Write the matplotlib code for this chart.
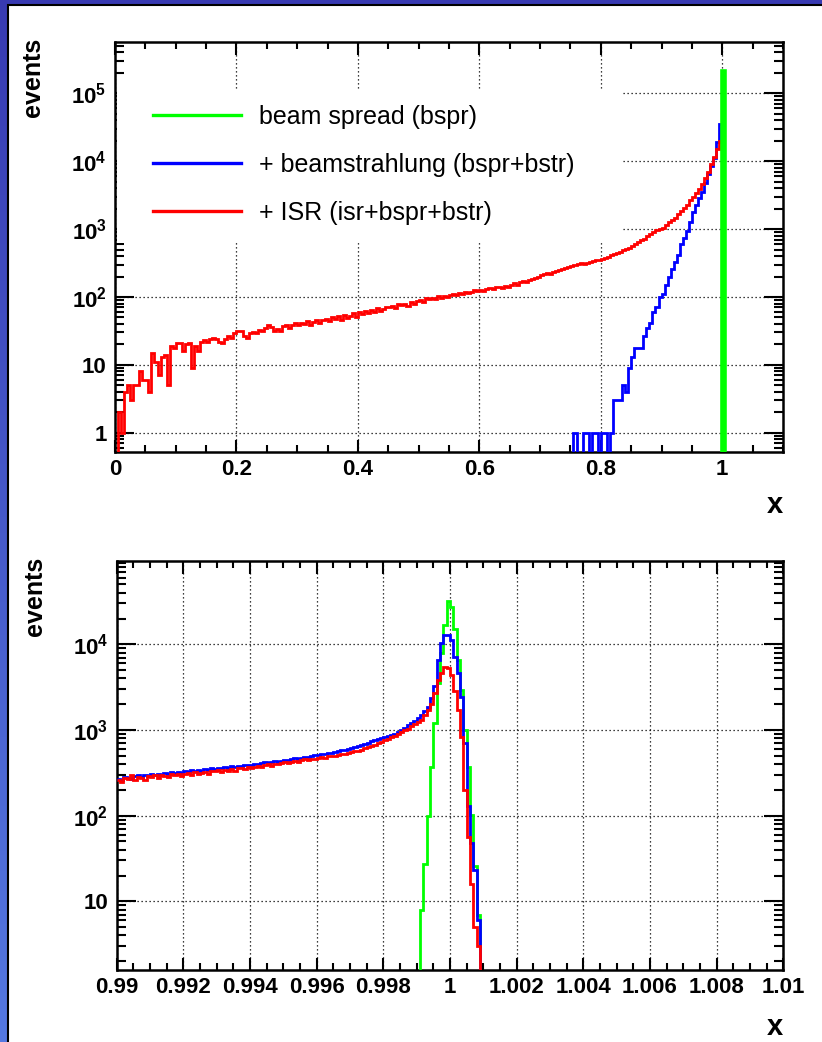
import numpy as np
import matplotlib.pyplot as plt
from matplotlib import font_manager
from matplotlib.lines import Line2D
from matplotlib.patches import Rectangle
from matplotlib.ticker import FixedLocator, FixedFormatter, MultipleLocator, LogLocator, NullFormatter

# ---------------- data ----------------
# upper panel: x in [0, 1.1], bins of 0.005
top_bin_width = 0.005
top_xmax = 1.1
# ISR (isr+bspr+bstr), bins starting at x = 0.0
isr_top = [
    0, 2, 1, 4, 5, 3, 5, 5, 8, 6,
    6, 4, 15, 11, 7, 13, 14, 5, 19, 18,
    21, 21, 16, 20, 21, 9, 19, 16, 22, 23,
    22, 24, 25, 24, 22, 21, 24, 27, 25, 29,
    32, 31, 27, 25, 29, 30, 29, 33, 31, 35,
    38, 36, 32, 34, 32, 37, 38, 35, 39, 41,
    38, 42, 40, 44, 39, 43, 46, 41, 45, 48,
    44, 50, 47, 52, 46, 55, 49, 53, 58, 51,
    60, 56, 62, 58, 65, 61, 68, 63, 66, 72,
    70, 74, 68, 78, 75, 80, 73, 84, 79, 86,
    90, 85, 95, 92, 98, 94, 102, 97, 105, 100,
    108, 112, 106, 116, 110, 120, 115, 118, 125, 122,
    128, 124, 132, 135, 130, 138, 140, 136, 145, 142,
    150, 158, 152, 165, 170, 168, 178, 185, 190, 200,
    210, 215, 225, 220, 235, 240, 250, 255, 265, 280,
    290, 300, 305, 315, 310, 320, 330, 335, 345, 350,
    360, 375, 390, 410, 425, 445, 465, 490, 510, 535,
    560, 600, 640, 680, 720, 780, 840, 900, 960, 1000,
    1050, 1150, 1250, 1350, 1450, 1650, 1850, 2050, 2300, 2700,
    3000, 3400, 3900, 4600, 5600, 7000, 9000, 11500, 15000, 20000,
]
# beamstrahlung (bspr+bstr), bins starting at x = 0.755
bstr_top_start = 0.755
bstr_top = [
    1, 0, 0, 1, 1, 0, 1, 1, 0, 1, 1, 0, 1,
    3, 3, 3, 5, 4, 9, 13, 18, 18, 18, 27, 35, 41, 60, 70, 100, 110,
    150, 195, 260, 330, 420, 600, 750, 950, 1250, 1800, 2300, 2900,
    3500, 4800, 6500, 8500, 11000, 19000, 35000,
]
# beam spread (bspr), single bin at x = 1.0
bspr_top_start = 1.0
bspr_top = [210000]

# lower panel: x in [0.99, 1.01], bins of 0.0001
bot_xmin, bot_xmax, bot_nbins = 0.99, 1.01, 200
bstr_bot = [
    270, 262, 285, 276, 268, 290, 296, 284, 300, 292,
    305, 298, 310, 302, 316, 308, 320, 312, 326, 318,
    330, 322, 338, 330, 344, 336, 352, 344, 358, 350,
    362, 356, 370, 364, 378, 372, 384, 378, 392, 386,
    395, 402, 396, 410, 418, 412, 424, 432, 426, 440,
    450, 444, 458, 466, 460, 474, 482, 490, 498, 506,
    515, 524, 520, 535, 546, 556, 568, 580, 592, 605,
    620, 634, 648, 664, 690, 705, 735, 755, 780, 810,
    840, 862, 880, 910, 950, 1000, 1060, 1130, 1200, 1280,
    1380, 1500, 1650, 1880, 2380, 3300, 6600, 10400, 12900, 12900,
    11300, 7200, 4650, 2460, 700, 130, 48, 23, 6,
]
isr_bot = [
    262, 250, 275, 268, 300, 258, 280, 272, 262, 290,
    285, 296, 278, 300, 292, 286, 305, 298, 310, 290,
    305, 315, 300, 322, 310, 318, 326, 306, 334, 328,
    338, 322, 344, 336, 352, 330, 358, 364, 348, 366,
    360, 372, 380, 366, 388, 396, 384, 404, 398, 412,
    420, 410, 428, 438, 426, 446, 454, 444, 462, 458,
    470, 480, 474, 492, 502, 496, 514, 528, 520, 540,
    556, 572, 566, 590, 610, 630, 652, 676, 700, 730,
    760, 790, 826, 862, 900, 945, 990, 1040, 1100, 1170,
    1250, 1320, 1500, 1700, 2000, 2700, 3870, 4650, 5500, 5300,
    4400, 2820, 1730, 840, 200, 57, 16, 5, 3,
]
bspr_bot_start = 0.9991
bspr_bot = [8, 27, 100, 375, 1200, 3500, 8000, 17000, 32500,
            27000, 15000, 6600, 2950, 1000, 375, 103, 26, 7]

labels = ['beam spread (bspr)', '+ beamstrahlung (bspr+bstr)', '+ ISR (isr+bspr+bstr)']
colors = ['#00ff00', '#0000ff', '#ff0000']

top_xticks = [0, 0.2, 0.4, 0.6, 0.8, 1.0]
top_xticklabels = ['0', '0.2', '0.4', '0.6', '0.8', '1']
top_yticks = [1, 10, 1e2, 1e3, 1e4, 1e5]
top_yticklabels = ['1', '10', '$10^{2}$', '$10^{3}$', '$10^{4}$', '$10^{5}$']
bot_xticks = [0.99, 0.992, 0.994, 0.996, 0.998, 1.0, 1.002, 1.004, 1.006, 1.008, 1.01]
bot_xticklabels = ['0.99', '0.992', '0.994', '0.996', '0.998', '1',
                   '1.002', '1.004', '1.006', '1.008', '1.01']
bot_yticks = [10, 1e2, 1e3, 1e4]
bot_yticklabels = ['10', '$10^{2}$', '$10^{3}$', '$10^{4}$']

# ---------------- style ----------------
plt.rcParams['font.family'] = ['Liberation Sans', 'DejaVu Sans']
plt.rcParams['font.weight'] = 'bold'
plt.rcParams['mathtext.fontset'] = 'custom'
plt.rcParams['mathtext.rm'] = 'Liberation Sans:bold'
plt.rcParams['mathtext.bf'] = 'Liberation Sans:bold'
plt.rcParams['mathtext.it'] = 'Liberation Sans:bold'

try:
    font_manager.findfont('Liberation Sans Narrow', fallback_to_default=False)
    title_family = 'Liberation Sans Narrow'
except ValueError:
    title_family = 'Liberation Sans'


def place(nbins, start_idx, vals):
    arr = np.zeros(nbins)
    arr[start_idx:start_idx + len(vals)] = vals
    return arr


def draw_hist(ax, edges, counts, color, lw=2.0):
    vals = np.where(counts > 0, counts, 1e-3)  # empty bins drop below the axis
    ax.stairs(vals, edges, color=color, lw=lw, baseline=None, zorder=3)


def style(ax, xticks, xlabels, xminor, yticks, ylabels):
    ax.set_yscale('log')
    ax.xaxis.set_major_locator(FixedLocator(xticks))
    ax.xaxis.set_major_formatter(FixedFormatter(xlabels))
    ax.xaxis.set_minor_locator(MultipleLocator(xminor))
    ax.yaxis.set_major_locator(FixedLocator(yticks))
    ax.yaxis.set_major_formatter(FixedFormatter(ylabels))
    ax.yaxis.set_minor_locator(LogLocator(base=10, subs=np.arange(2, 10), numticks=20))
    ax.yaxis.set_minor_formatter(NullFormatter())
    ax.tick_params(which='both', direction='in', top=True, right=True,
                   width=1.5, labelsize=16)
    ax.tick_params(axis='x', which='major', length=9, pad=5)
    ax.tick_params(axis='x', which='minor', length=5)
    ax.tick_params(axis='y', which='major', length=13.5, pad=6)
    ax.tick_params(axis='y', which='minor', length=6.5)
    for s in ax.spines.values():
        s.set_linewidth(1.8)
    ax.set_axisbelow(True)
    ax.grid(True, which='major', color='black', ls=(0, (1, 2.2)), lw=0.9)
    ax.set_xlabel('x', loc='right', fontsize=21, fontweight='bold')
    ax.set_ylabel('events', loc='top', fontsize=18, fontweight='bold', family=title_family)


fig = plt.figure(figsize=(8.22, 10.42), dpi=100)

# blue frame + white panel
bg = fig.add_axes([0, 0, 1, 1], zorder=-10)
grad = np.linspace(0, 1, 256)[:, None, None]
c_top = np.array([0.22, 0.23, 0.70])
c_bot = np.array([0.33, 0.47, 0.88])
bg.imshow(c_top + grad * (c_bot - c_top), aspect='auto', extent=[0, 1, 0, 1])
bg.axis('off')
fig.add_artist(Rectangle((8 / 822, -0.01), 1.0, 1 - 5 / 1042 + 0.01, transform=fig.transFigure,
                         facecolor='white', edgecolor='black', lw=1.5, zorder=-5))

# ---------------- upper panel ----------------
ax1 = fig.add_axes([115 / 822, 1 - 452 / 1042, 668 / 822, 410 / 1042])
n_top = int(round(top_xmax / top_bin_width))
top_edges = np.linspace(0, top_xmax, n_top + 1)
h_isr = place(n_top, 0, isr_top)
h_bstr = place(n_top, int(round(bstr_top_start / top_bin_width)), bstr_top)
h_bspr = place(n_top, int(round(bspr_top_start / top_bin_width)), bspr_top)
draw_hist(ax1, top_edges, h_bstr, colors[1])
draw_hist(ax1, top_edges, h_isr, colors[2])
draw_hist(ax1, top_edges, h_bspr, colors[0], lw=2.6)
ax1.set_xlim(0, top_xmax)
ax1.set_ylim(0.52, 5.7e5)
style(ax1, top_xticks, top_xticklabels, 0.05, top_yticks, top_yticklabels)
ax1.xaxis.set_label_coords(1.0, -0.095)
ax1.yaxis.set_label_coords(-0.105, 1.01)

# legend (white box hides the grid behind it)
ax1.add_patch(Rectangle((0.003, 0.51), 0.756, 0.373, transform=ax1.transAxes,
                        facecolor='white', edgecolor='none', zorder=1))
handles = [Line2D([], [], color=c, lw=2.4) for c in colors]
ax1.legend(handles, labels, loc='upper left', bbox_to_anchor=(0.057, 0.846),
           frameon=False, borderpad=0, borderaxespad=0, handlelength=3.5,
           handletextpad=0.75, labelspacing=0.95,
           prop={'family': 'Liberation Sans', 'weight': 'normal', 'size': 18})

# ---------------- lower panel ----------------
ax2 = fig.add_axes([116.7 / 822, 1 - 970 / 1042, 666.6 / 822, 409 / 1042])
bot_edges = np.linspace(bot_xmin, bot_xmax, bot_nbins + 1)
bw = (bot_xmax - bot_xmin) / bot_nbins
g_bspr = place(bot_nbins, int(round((bspr_bot_start - bot_xmin) / bw)), bspr_bot)
g_bstr = place(bot_nbins, 0, bstr_bot)
g_isr = place(bot_nbins, 0, isr_bot)
draw_hist(ax2, bot_edges, g_bspr, colors[0])
draw_hist(ax2, bot_edges, g_bstr, colors[1])
draw_hist(ax2, bot_edges, g_isr, colors[2])
ax2.set_xlim(bot_xmin, bot_xmax)
ax2.set_ylim(1.58, 9.4e4)
style(ax2, bot_xticks, bot_xticklabels, 0.0005, bot_yticks, bot_yticklabels)
ax2.xaxis.set_label_coords(1.0, -0.105)
ax2.yaxis.set_label_coords(-0.105, 1.01)

fig.savefig('out.png', dpi=100)
